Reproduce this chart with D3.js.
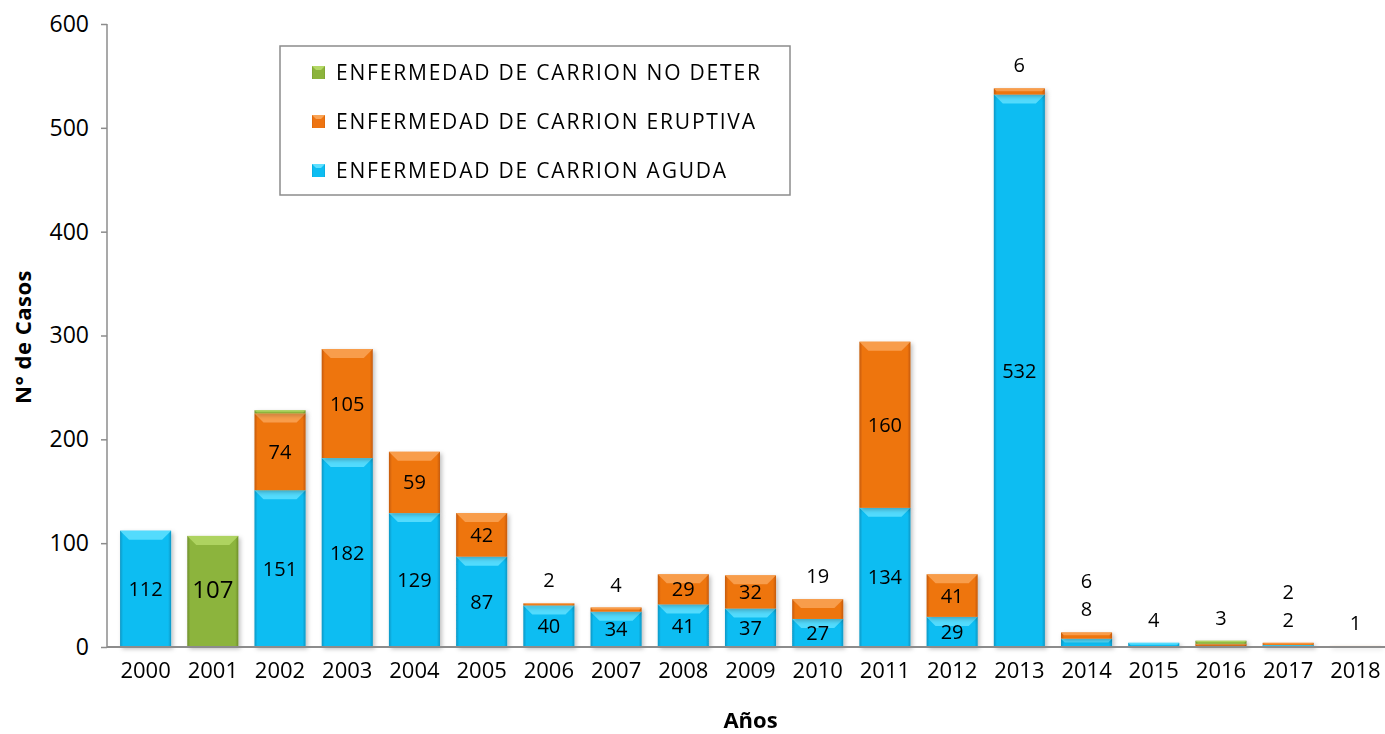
<!DOCTYPE html>
<html>
<head>
<meta charset="utf-8">
<script src="https://cdn.jsdelivr.net/npm/d3@7"></script>
<style>
  body { margin: 0; background: #fff; }
  svg { font-family: "Open Sans", "Noto Sans", sans-serif; }
</style>
</head>
<body>
<div class="canvas"></div>
<script>
// data
var years   = ["2000","2001","2002","2003","2004","2005","2006","2007","2008","2009",
               "2010","2011","2012","2013","2014","2015","2016","2017","2018"];
var aguda   = [112,   0, 151, 182, 129,  87,  40,  34,  41,  37,  27, 134,  29, 532,   8,   4,   0,   2,   0];
var eruptiva= [  0,   0,  74, 105,  59,  42,   2,   4,  29,  32,  19, 160,  41,   6,   6,   0,   3,   2,   1];
var noDeter = [  0, 107,   3,   0,   0,   0,   0,   0,   0,   0,   0,   0,   0,   0,   0,   0,   3,   0,   0];
var yTicks  = [0, 100, 200, 300, 400, 500, 600];

var series = [
  {key: "aguda",    name: "ENFERMEDAD DE CARRION AGUDA",    values: aguda,    color: "#0DBDF2", light: "#5FE0FF", dark: "#0796C4"},
  {key: "eruptiva", name: "ENFERMEDAD DE CARRION ERUPTIVA", values: eruptiva, color: "#EE7411", light: "#F9A456", dark: "#C45A08"},
  {key: "nodeter",  name: "ENFERMEDAD DE CARRION NO DETER", values: noDeter,  color: "#8CB43C", light: "#B4D866", dark: "#6E8E2A"}
];

var W = 1385, H = 734;
var FONT = "'Open Sans', 'Noto Sans', sans-serif";
var svg = d3.select(".canvas").append("svg").attr("width", W).attr("height", H);

var x = d3.scaleBand().domain(years).range([112, 1389]).paddingInner(0.24).paddingOuter(0.12);
var y = d3.scaleLinear().domain([0, 600]).range([647, 24]);

var defs = svg.append("defs");
series.forEach(function(s) {
  var g = defs.append("linearGradient").attr("id", "g-" + s.key).attr("x1", 0).attr("x2", 1).attr("y1", 0).attr("y2", 0);
  g.append("stop").attr("offset", "0%").attr("stop-color", s.dark);
  g.append("stop").attr("offset", "6%").attr("stop-color", s.color);
  g.append("stop").attr("offset", "94%").attr("stop-color", s.color);
  g.append("stop").attr("offset", "100%").attr("stop-color", s.dark);
});
var f = defs.append("filter").attr("id", "shadow").attr("x", "-20%").attr("y", "-20%").attr("width", "140%").attr("height", "140%");
f.append("feDropShadow").attr("dx", 2).attr("dy", 2).attr("stdDeviation", 2).attr("flood-color", "#000").attr("flood-opacity", 0.25);

// stack
var rows = years.map(function(yr, i) {
  return {year: yr, aguda: aguda[i], eruptiva: eruptiva[i], nodeter: noDeter[i]};
});
var stack = d3.stack().keys(series.map(function(s) { return s.key; }))(rows);

// axes
var yAxis = svg.append("g").attr("transform", "translate(107,0)")
  .call(d3.axisLeft(y).tickValues(yTicks).tickSize(6).tickPadding(12));
yAxis.attr("font-family", FONT);
yAxis.select(".domain").attr("stroke", "#8c8c8c").attr("stroke-width", 1.5).attr("d", "M0," + y(600) + "V" + y(0));
yAxis.selectAll(".tick line").attr("stroke", "#8c8c8c").attr("stroke-width", 1.5);
yAxis.selectAll("text").attr("font-size", 23).attr("fill", "#000");

// bars
stack.forEach(function(layer, si) {
  var s = series[si];
  var g = svg.append("g").attr("filter", "url(#shadow)");
  layer.forEach(function(d, i) {
    var v = d[1] - d[0];
    if (v <= 0) return;
    var x0 = x(years[i]), bw = x.bandwidth();
    var y0 = y(d[1]), h = y(d[0]) - y(d[1]);
    g.append("rect").attr("x", x0).attr("y", y0).attr("width", bw).attr("height", h)
      .attr("fill", "url(#g-" + s.key + ")");
    var bev = Math.min(9, h * 0.45);
    g.append("path")
      .attr("d", "M" + x0 + "," + y0 + "H" + (x0 + bw) + "L" + (x0 + bw - bev) + "," + (y0 + bev) + "H" + (x0 + bev) + "Z")
      .attr("fill", s.light).attr("opacity", 0.85);
  });
});

// x axis
var xAxis = svg.append("g").attr("transform", "translate(0," + y(0) + ")")
  .call(d3.axisBottom(x).tickSize(0).tickPadding(15));
xAxis.attr("font-family", FONT);
xAxis.select(".domain").attr("stroke", "#8c8c8c").attr("stroke-width", 2).attr("d", "M107,0H1385");
xAxis.selectAll("text").attr("font-size", 22).attr("fill", "#000");

// data labels
var labels = svg.append("g").attr("fill", "#000").attr("text-anchor", "middle");
years.forEach(function(yr, i) {
  var top = y(stack[stack.length - 1][i][1]);
  var k = 0;
  stack.forEach(function(layer, si) {
    var d = layer[i], v = d[1] - d[0];
    if (v <= 0) return;
    if (series[si].key === "nodeter" && v < 50) return;
    var cx = x(yr) + x.bandwidth() / 2;
    var h = y(d[0]) - y(d[1]);
    var ly;
    if (h >= 22) ly = (y(d[0]) + y(d[1])) / 2 + 7;
    else { ly = top - 16 - 28 * k; k++; }
    labels.append("text").attr("x", cx).attr("y", ly)
      .attr("font-size", series[si].key === "nodeter" ? 24 : 20)
      .text(v);
  });
});

// axis titles
svg.append("text").attr("x", x("2009") + x.bandwidth() / 2).attr("y", 728).attr("text-anchor", "middle")
  .attr("font-size", 22).attr("font-weight", "bold").text("Años");
svg.append("text").attr("transform", "translate(31,337) rotate(-90)").attr("text-anchor", "middle")
  .attr("font-size", 22).attr("font-weight", "bold").attr("letter-spacing", 0.5).text("N° de Casos");

// legend
var lg = svg.append("g").attr("transform", "translate(280,46)");
lg.append("rect").attr("width", 510).attr("height", 149).attr("fill", "#fff").attr("stroke", "#8c8c8c").attr("stroke-width", 1.5);
series.slice().reverse().forEach(function(s, i) {
  var row = lg.append("g").attr("transform", "translate(32," + (26 + i * 49) + ")");
  row.append("rect").attr("x", 0).attr("y", -6).attr("width", 13).attr("height", 13).attr("fill", "url(#g-" + s.key + ")");
  row.append("path").attr("d", "M0,-6H13L9,-2H4Z").attr("fill", s.light);
  row.append("text").attr("x", 24).attr("y", 8).attr("font-size", 21).attr("letter-spacing", 1.8)
    .attr("fill", "#000").text(s.name);
});
</script>
</body>
</html>
